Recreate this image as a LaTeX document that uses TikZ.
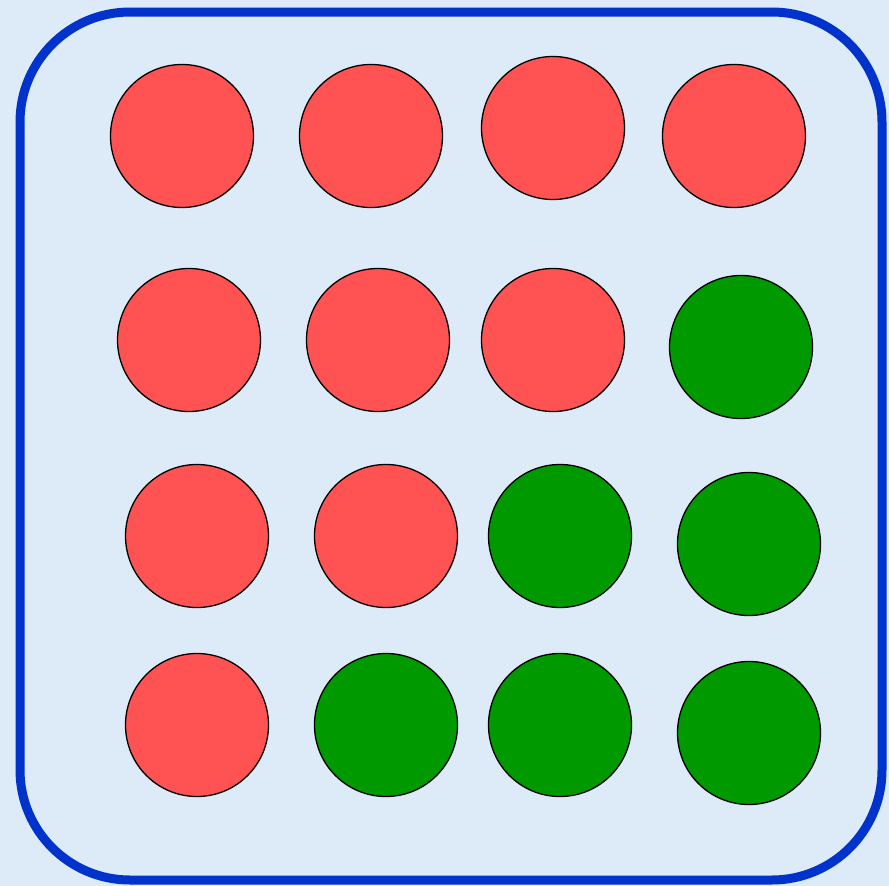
\documentclass[tikz,border=0pt]{standalone}
\usepackage{xcolor}
\usepackage{tikz}
\usetikzlibrary{positioning}

\definecolor{bgblue}{RGB}{221,235,249}
\definecolor{frameblue}{RGB}{0,51,204}
\definecolor{ballred}{RGB}{255,82,82}
\definecolor{ballgreen}{RGB}{0,153,0}

\begin{document}
\begin{tikzpicture}[
  x=1pt, y=1pt,
  ball/.style={circle, draw=black, line width=1.3pt, minimum size=143pt, inner sep=0pt},
  redball/.style={ball, fill=ballred},
  greenball/.style={ball, fill=ballgreen},
  frame/.style={draw=frameblue, line width=9pt, rounded corners=110pt}
]
  % background
  \fill[bgblue] (0,0) rectangle (889,-886);
  \useasboundingbox (0,0) rectangle (889,-886);

  % frame
  \draw[frame] (20,-12) rectangle (882,-880);

  % row 1
  \node[redball] (a1) at (182,-136) {};
  \node[redball] (a2) at (371,-136) {};
  \node[redball] (a3) at (553,-128) {};
  \node[redball] (a4) at (734,-136) {};

  % row 2
  \node[redball] (b1) at (189,-340) {};
  \node[redball] (b2) at (378,-340) {};
  \node[redball] (b3) at (553,-340) {};
  \node[greenball] (b4) at (741,-347) {};

  % row 3
  \node[redball] (c1) at (197,-536) {};
  \node[redball] (c2) at (386,-536) {};
  \node[greenball] (c3) at (560,-536) {};
  \node[greenball] (c4) at (749,-544) {};

  % row 4
  \node[redball] (d1) at (197,-725) {};
  \node[greenball] (d2) at (386,-725) {};
  \node[greenball] (d3) at (560,-725) {};
  \node[greenball] (d4) at (749,-733) {};
\end{tikzpicture}
\end{document}
